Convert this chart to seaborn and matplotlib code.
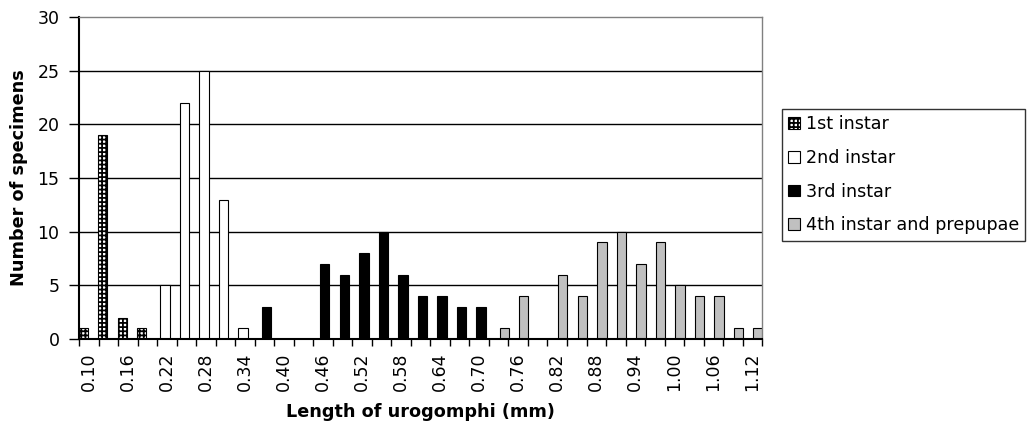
import numpy as np
import pandas as pd
import matplotlib
matplotlib.use("Agg")
import matplotlib.pyplot as plt
import seaborn as sns

# category labels on the x axis (mm)
lengths = ["0.10", "0.13", "0.16", "0.19", "0.22", "0.25", "0.28", "0.31", "0.34",
           "0.37", "0.40", "0.43", "0.46", "0.49", "0.52", "0.55", "0.58", "0.61",
           "0.64", "0.67", "0.70", "0.73", "0.76", "0.79", "0.82", "0.85", "0.88",
           "0.91", "0.94", "0.97", "1.00", "1.03", "1.06", "1.09", "1.12"]

stages = ["1st instar", "2nd instar", "3rd instar", "4th instar and prepupae"]

# counts per stage, in the order of the categories
first = [1, 19, 2, 1]                                   # 0.10 - 0.19
second = [5, 22, 25, 13, 1]                             # 0.22 - 0.34
third = [3, 0, 0, 7, 6, 8, 10, 6, 4, 4, 3, 3]           # 0.37 - 0.70
fourth = [1, 4, 0, 6, 4, 9, 10, 7, 9, 5, 4, 4, 1, 1]    # 0.73 - 1.12

df = pd.DataFrame({
    "length": lengths,
    "count": first + second + third + fourth,
    "stage": [stages[0]] * len(first) + [stages[1]] * len(second)
             + [stages[2]] * len(third) + [stages[3]] * len(fourth),
})

sns.set_theme(style="white")
plt.rcParams["font.family"] = ["DejaVu Sans"]
plt.rcParams["text.color"] = "black"
plt.rcParams["axes.labelcolor"] = "black"
plt.rcParams["hatch.linewidth"] = 1.3

fig, ax = plt.subplots(figsize=(10.3, 4.28), dpi=100)
fig.subplots_adjust(left=0.0767, right=0.740, top=0.960, bottom=0.208)

sns.barplot(data=df, x="length", y="count", hue="stage", order=lengths,
            hue_order=stages, palette=["white", "white", "black", "#c0c0c0"],
            dodge=True, width=0.77, saturation=1, edgecolor="black",
            linewidth=0.8, errorbar=None, legend=False, ax=ax)

# excel-like overlapping clustered bars: widen each bar around its centre
bar_w = 0.47
for i, cont in enumerate(ax.containers):
    for bar in cont:
        c = bar.get_x() + bar.get_width() / 2
        bar.set_width(bar_w)
        bar.set_x(c - bar_w / 2)
        if i == 0:
            bar.set_hatch("++++")

ax.set_xlim(-0.5, len(lengths) - 0.5)
ax.set_ylim(0, 30)
ax.set_yticks(range(0, 31, 5))
ax.set_xticks(range(0, len(lengths), 2))
ax.set_xticklabels(lengths[::2], rotation=90)
ax.set_xticks(np.arange(-0.5, len(lengths), 1), minor=True)

ax.tick_params(axis="x", which="major", length=0, pad=10, labelsize=12.5, colors="black")
ax.tick_params(axis="x", which="minor", bottom=True, length=5, width=1, color="black")
ax.tick_params(axis="y", left=True, length=7, width=1, pad=7, labelsize=12.5, colors="black")

ax.set_axisbelow(True)
ax.yaxis.grid(True, color="black", linewidth=1)
ax.get_ygridlines()[-1].set_visible(False)

for s in ["left", "bottom"]:
    ax.spines[s].set_color("black")
    ax.spines[s].set_linewidth(1.5)
for s in ["top", "right"]:
    ax.spines[s].set_color("#808080")
    ax.spines[s].set_linewidth(1)

ax.set_xlabel("Length of urogomphi (mm)", fontsize=12.7, fontweight="bold", labelpad=8)
ax.set_ylabel("Number of specimens", fontsize=12.7, fontweight="bold", labelpad=7)

leg = ax.legend(ax.containers, stages, loc="upper left",
                bbox_to_anchor=(782 / 1030, 1 - 109 / 428), bbox_transform=fig.transFigure,
                borderaxespad=0, frameon=True, fancybox=False, fontsize=12.6,
                handlelength=0.65, handleheight=0.65, handletextpad=0.35,
                labelspacing=0.9, borderpad=0.35)
leg.get_frame().set_edgecolor("black")
leg.get_frame().set_linewidth(1)

fig.savefig("out.png", dpi=100)
